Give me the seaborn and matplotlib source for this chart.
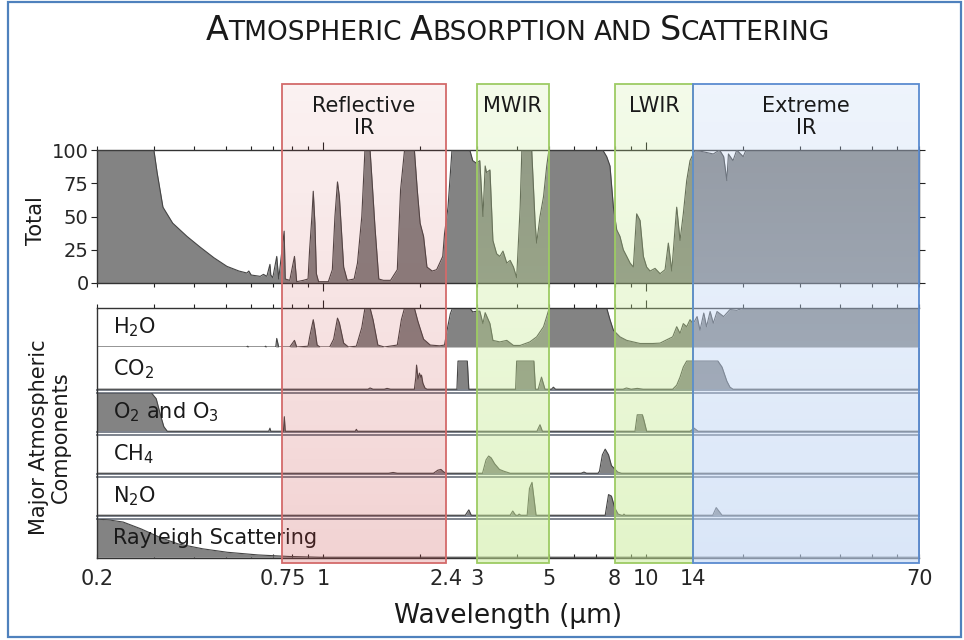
"""Absorción y dispersión atmosférica (redibujo con seaborn)."""

import matplotlib.pyplot as plt
import numpy as np
import seaborn as sns
from matplotlib.patches import Rectangle
from matplotlib.ticker import FixedLocator, LogLocator, NullFormatter, NullLocator

# Absorción total (%) frente a longitud de onda (µm)
total_wl = [0.20, 0.30, 0.307, 0.32, 0.343, 0.38, 0.417, 0.46, 0.505, 0.55,
            0.582, 0.59, 0.60, 0.64, 0.655, 0.671, 0.686, 0.69, 0.70, 0.72,
            0.73, 0.759, 0.765, 0.79, 0.817, 0.83, 0.87, 0.90, 0.91, 0.925,
            0.934, 0.945, 0.955, 0.97, 1.04, 1.07, 1.09, 1.11, 1.125, 1.16,
            1.19, 1.25, 1.28, 1.32, 1.35, 1.40, 1.42, 1.45, 1.49, 1.54,
            1.62, 1.70, 1.74, 1.79, 1.92, 1.96, 2.00, 2.05, 2.10, 2.18,
            2.25, 2.30, 2.35, 2.38, 2.44, 2.51, 2.85, 2.91, 2.99, 3.06,
            3.13, 3.18, 3.21, 3.29, 3.36, 3.45, 3.53, 3.61, 3.71, 3.80,
            3.89, 3.98, 4.08, 4.13, 4.43, 4.54, 4.59, 4.70, 4.82, 4.93,
            5.01, 7.35, 7.56, 7.74, 7.93, 8.12, 8.31, 8.51, 8.72, 8.93,
            9.14, 9.36, 9.59, 9.82, 10.05, 10.3, 10.67, 11.06, 11.46, 11.73,
            12.02, 12.45, 12.75, 13.05, 13.37, 13.69, 14.19, 16.16, 16.9, 17.4,
            17.8, 18.0, 18.6, 19.1, 20.0, 20.4, 70.0]
total_abs = [100, 100, 83, 57, 45, 35, 27, 19, 12.5, 9,
             7.5, 9, 6, 5, 6.5, 5, 14, 6, 4, 20,
             3, 39, 3, 2, 20, 1, 2, 3, 25, 50,
             69, 45, 7, 1, 1, 10, 50, 76, 65, 12,
             2, 3, 15, 50, 100, 100, 77, 42, 3, 2,
             2, 10, 70, 100, 100, 70, 45, 35, 12, 9,
             10, 15, 20, 37, 57, 100, 100, 92, 90, 92,
             50, 88, 83, 85, 32, 22, 20, 24, 15, 17,
             12, 4, 57, 100, 100, 45, 30, 50, 65, 88,
             100, 100, 95, 88, 57, 40, 35, 25, 20, 15,
             12, 52, 47, 20, 12, 9, 11, 7, 10, 30,
             9, 57, 32, 52, 77, 92, 100, 97, 100, 95,
             77, 97, 92, 100, 95, 100, 100]

h2o_wl = [0.20, 0.58, 0.585, 0.59, 0.66, 0.665, 0.67, 0.715, 0.72, 0.73,
          0.79, 0.817, 0.83, 0.90, 0.91, 0.934, 0.945, 0.96, 0.98, 1.05,
          1.08, 1.11, 1.125, 1.16, 1.20, 1.27, 1.32, 1.35, 1.40, 1.43,
          1.48, 1.55, 1.70, 1.75, 1.79, 1.92, 1.97, 2.05, 2.15, 2.30,
          2.38, 2.42, 2.48, 2.52, 2.85, 2.91, 3.00, 3.06, 3.13, 3.18,
          3.29, 3.36, 3.53, 3.71, 3.89, 4.08, 4.37, 4.59, 4.82, 4.93,
          5.02, 7.35, 7.56, 7.74, 7.93, 8.31, 8.72, 9.14, 9.59, 10.5,
          11.06, 11.5, 12.1, 12.45, 12.75, 13.05, 13.37, 13.69, 14.0, 14.4,
          14.7, 15.1, 15.4, 15.8, 16.16, 16.6, 17.4, 18.2, 19.1, 20.0,
          70.0]
h2o_abs = [0, 0, 2, 0, 0, 2, 0, 0, 22, 0,
           0, 17, 0, 2, 25, 70, 45, 5, 0, 0,
           20, 74, 62, 10, 0, 2, 50, 100, 100, 70,
           5, 0, 5, 70, 100, 100, 65, 20, 5, 3,
           5, 40, 85, 100, 100, 90, 92, 92, 60, 88,
           60, 17, 13, 17, 4, 4, 13, 26, 52, 78,
           100, 100, 100, 70, 43, 26, 17, 13, 9, 9,
           10, 17, 26, 52, 35, 60, 52, 70, 60, 78,
           43, 87, 52, 91, 61, 91, 78, 96, 94, 100,
           100]

co2_wl = [0.20, 1.38, 1.40, 1.43, 1.55, 1.58, 1.62, 1.92, 1.94, 1.95,
          1.97, 1.99, 2.01, 2.02, 2.04, 2.07, 2.10, 2.60, 2.62, 2.80,
          2.83, 3.95, 3.98, 4.50, 4.55, 4.64, 4.75, 4.87, 5.10, 5.17,
          5.25, 8.50, 8.70, 9.00, 9.40, 9.80, 12.1, 12.45, 12.75, 13.05,
          13.37, 16.7, 17.2, 17.8, 18.2, 18.6, 70.0]
co2_abs = [0, 0, 3, 0, 0, 2, 0, 0, 30, 60,
           25, 40, 30, 35, 15, 3, 0, 0, 70, 70,
           0, 0, 70, 70, 0, 0, 30, 0, 0, 5,
           0, 0, 3, 0, 2, 0, 0, 10, 30, 55,
           70, 70, 55, 20, 5, 0, 0]

o2_wl = [0.20, 0.295, 0.305, 0.315, 0.322, 0.33, 0.68, 0.686, 0.69, 0.755,
         0.76, 0.765, 1.26, 1.27, 1.28, 4.60, 4.70, 4.78, 9.25, 9.40,
         9.75, 9.85, 10.05, 13.7, 14.1, 14.5, 70.0]
o2_abs = [100, 100, 85, 40, 12, 0, 0, 8, 0, 0,
          38, 0, 0, 5, 0, 0, 17, 0, 0, 43,
          43, 30, 0, 0, 8, 0, 0]

ch4_wl = [0.20, 1.60, 1.65, 1.70, 2.20, 2.27, 2.32, 2.37, 2.42, 3.12,
          3.20, 3.26, 3.32, 3.40, 3.52, 3.64, 3.80, 6.30, 6.43, 6.55,
          7.10, 7.18, 7.33, 7.48, 7.66, 7.82, 8.18, 8.40, 70.0]
ch4_abs = [0, 0, 2, 0, 0, 8, 10, 3, 0, 0,
           35, 45, 40, 25, 10, 5, 0, 0, 3, 0,
           0, 5, 48, 63, 48, 20, 3, 0, 0]

n2o_wl = [0.20, 2.76, 2.83, 2.88, 3.80, 3.87, 3.95, 4.02, 4.05, 4.10,
          4.29, 4.36, 4.44, 4.57, 7.48, 7.66, 7.82, 8.00, 8.20, 8.40,
          8.50, 8.55, 8.62, 16.1, 16.5, 17.2, 70.0]
n2o_abs = [0, 0, 14, 0, 0, 11, 0, 0, 3, 0,
           0, 70, 86, 0, 0, 54, 50, 20, 3, 0,
           0, 3, 0, 0, 20, 0, 0]

ray_wl = [0.20, 0.22, 0.241, 0.274, 0.313, 0.356, 0.425, 0.506, 0.63, 0.785, 0.977, 70.0]
ray_abs = [100, 97, 92, 74, 52, 35, 22, 13, 6, 2, 0, 0]

panel_labels = ["H$_2$O", "CO$_2$", "O$_2$ and O$_3$", "CH$_4$", "N$_2$O", "Rayleigh Scattering"]

band_names = ["Reflective\nIR", "MWIR", "LWIR", "Extreme\nIR"]
band_lo = [0.75, 3, 8, 14]
band_hi = [2.4, 5, 14, 70]

tick_vals = [0.2, 0.75, 1, 2.4, 3, 5, 8, 10, 14, 70]
tick_text = ["0.2", "0.75", "1", "2.4", "3", "5", "8", "10", "14", "70"]
ytick_vals = [0, 25, 50, 75, 100]

title_words = ["Atmospheric", "Absorption", "and", "Scattering"]

# Estilo
W_PX, H_PX = 964, 640
X0, X1 = 97, 919
FILL = "#838383"
EDGE = "#454545"
BOX = "#7d838d"
# color, alfa arriba, alfa abajo, borde
band_style = [
    ((0.78, 0.24, 0.24), 0.07, 0.23, "#d36a6a"),
    ((0.78, 0.92, 0.58), 0.20, 0.50, "#9dcb63"),
    ((0.78, 0.92, 0.58), 0.20, 0.50, "#9dcb63"),
    ((0.76, 0.84, 0.96), 0.27, 0.60, "#5b8bd0"),
]

sns.set_style("ticks")
plt.rcParams["font.family"] = ["DejaVu Sans"]
plt.rcParams["mathtext.fontset"] = "dejavusans"

fig = plt.figure(figsize=(W_PX / 100, H_PX / 100), dpi=100)


def px_axes(left, top, right, bottom, **kw):
    return fig.add_axes([left / W_PX, 1 - bottom / H_PX,
                         (right - left) / W_PX, (bottom - top) / H_PX], **kw)


def fill_spectrum(ax, wl, val):
    ax.fill_between(wl, 0, val, color=FILL, linewidth=0, zorder=2)
    sns.lineplot(x=wl, y=val, ax=ax, color=EDGE, linewidth=0.8,
                 estimator=None, sort=False, zorder=3)


def log_ticks(ax, top, bottom, direction):
    ax.xaxis.set_major_locator(FixedLocator([1, 10]))
    ax.xaxis.set_minor_locator(LogLocator(base=10, subs=np.arange(2, 10), numticks=20))
    ax.xaxis.set_major_formatter(NullFormatter())
    ax.xaxis.set_minor_formatter(NullFormatter())
    ax.tick_params(axis="x", which="both", top=top, bottom=bottom,
                   labelbottom=False, labeltop=False, direction=direction,
                   color="#222222", width=0.8)
    ax.tick_params(axis="x", which="major", length=6)
    ax.tick_params(axis="x", which="minor", length=3)


# Panel superior: total
ax_tot = px_axes(X0, 150, X1, 283)
ax_tot.set_xscale("log")
fill_spectrum(ax_tot, total_wl, total_abs)
ax_tot.set_xlim(0.2, 70)
ax_tot.set_ylim(0, 100)
ax_tot.set_xlabel("")
ax_tot.set_ylabel("")
log_ticks(ax_tot, True, True, "out")
ax_tot.set_yticks(ytick_vals)
ax_tot.tick_params(axis="y", left=True, right=True, length=4, width=0.8,
                   direction="out", pad=2, labelsize=14, color="#222222")
for s in ax_tot.spines.values():
    s.set_visible(True)
    s.set_color("#333333")
    s.set_linewidth(1.0)

# Marco de los componentes
frame = px_axes(X0, 308, X1, 558, zorder=5)
frame.set_facecolor("none")
frame.set_xscale("log")
frame.set_xlim(0.2, 70)
frame.set_ylim(0, 1)
frame.set_yticks([])
log_ticks(frame, True, False, "out")
frame.spines["right"].set_visible(False)
for side in ("left", "top", "bottom"):
    frame.spines[side].set_color("#333333")
    frame.spines[side].set_linewidth(1.0)

rows = [(308, 347), (349, 390), (393, 432), (435, 474), (477, 516), (519, 558)]
series = [(h2o_wl, h2o_abs), (co2_wl, co2_abs), (o2_wl, o2_abs),
          (ch4_wl, ch4_abs), (n2o_wl, n2o_abs), (ray_wl, ray_abs)]
for i, ((top, bot), (wl, val), label) in enumerate(zip(rows, series, panel_labels)):
    ax = px_axes(X0, top, X1, bot, zorder=1)
    ax.set_facecolor("none")
    ax.set_xscale("log")
    fill_spectrum(ax, wl, val)
    ax.set_xlim(0.2, 70)
    ax.set_ylim(-2 if i else 0, 100)
    ax.set_xlabel("")
    ax.set_ylabel("")
    ax.set_yticks([])
    ax.xaxis.set_minor_locator(NullLocator())
    ax.xaxis.set_minor_formatter(NullFormatter())
    ax.set_xticks([])
    ax.text(0.02, 0.5, label, transform=ax.transAxes, fontsize=15,
            ha="left", va="center", color="#1a1a1a", zorder=4)
    for side, s in ax.spines.items():
        s.set_color(BOX)
        s.set_linewidth(1.4)
        s.set_visible(i > 0 and side != "left")
    if i == 1:
        ax.spines["top"].set_visible(False)
    if i == 5:
        ax.spines["bottom"].set_visible(False)
        ax.xaxis.remove_overlapping_locs = False
        ax.set_xticks(tick_vals, tick_text)
        ax.xaxis.set_minor_locator(LogLocator(base=10, subs=np.arange(1, 10), numticks=20))
        ax.xaxis.set_minor_formatter(NullFormatter())
        ax.tick_params(axis="x", which="major", length=0, pad=8, labelsize=15)
        ax.tick_params(axis="x", which="minor", length=3, direction="in",
                       width=0.8, color="#222222")

# Bandas espectrales (degradado translúcido sobre todo)
ov = px_axes(X0, 84, X1, 563, zorder=10)
ov.set_facecolor("none")
for name, lo, hi, (rgb, a_top, a_bot, edge) in zip(band_names, band_lo, band_hi, band_style):
    grad = np.zeros((64, 1, 4))
    grad[..., :3] = rgb
    grad[:, 0, 3] = np.linspace(a_top, a_bot, 64)
    x_lo, x_hi = np.log10(lo), np.log10(hi)
    ov.imshow(grad, extent=(x_lo, x_hi, 0, 1), aspect="auto",
              interpolation="bilinear", zorder=1)
    ov.add_patch(Rectangle((x_lo, 0), x_hi - x_lo, 1, fill=False,
                           edgecolor=edge, linewidth=1.3, zorder=2, clip_on=False))
    ov.text((x_lo + x_hi) / 2, 0.975, name, ha="center", va="top",
            fontsize=15, linespacing=1.15, color="#1a1a1a", zorder=3)
ov.set_xlim(np.log10(0.2), np.log10(70))
ov.set_ylim(0, 1)
ov.axis("off")

# Textos
fig.text(36 / W_PX, 1 - 221 / H_PX, "Total", rotation=90, ha="center",
         va="center", fontsize=15, color="#1a1a1a")
fig.text(50 / W_PX, 1 - 437 / H_PX, "Major Atmospheric\nComponents", rotation=90,
         ha="center", va="center", multialignment="center", fontsize=15,
         linespacing=1.15, color="#1a1a1a")
fig.text(508 / W_PX, 1 - 616 / H_PX, "Wavelength (µm)", ha="center",
         va="center", fontsize=19, color="#1a1a1a")

# Título en versalitas
renderer = fig.canvas.get_renderer()
BIG, SMALL = 24, 19


def text_width(s, size):
    t = fig.text(0, 0, s, fontsize=size)
    w = t.get_window_extent(renderer).width
    t.remove()
    return w


gap = text_width("A A", SMALL) - text_width("AA", SMALL)
pieces = []
for word in title_words:
    if word[0].isupper():
        pieces.append((word[0], BIG))
        pieces.append((word[1:].upper(), SMALL))
    else:
        pieces.append((word.upper(), SMALL))
    pieces.append((None, gap))
pieces = pieces[:-1]
widths = [size if s is None else text_width(s, size) for s, size in pieces]
x = 518 - sum(widths) / 2
for (s, size), w in zip(pieces, widths):
    if s is not None:
        fig.text(x / W_PX, 1 - 40 / H_PX, s, fontsize=size, va="baseline",
                 ha="left", color="#1a1a1a")
    x += w

# Borde de la figura
fig.add_artist(Rectangle((8 / W_PX, 3 / H_PX), 953 / W_PX, 635 / H_PX,
                         transform=fig.transFigure, fill=False,
                         edgecolor="#4f81bd", linewidth=1.6))

fig.savefig("out.png", dpi=100)
